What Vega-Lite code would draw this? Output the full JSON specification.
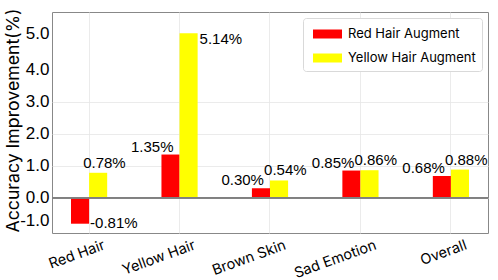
{
  "$schema": "https://vega.github.io/schema/vega-lite/v6.json",
  "width": 436,
  "height": 221,
  "autosize": {"type": "none"},
  "padding": {"left": 52, "top": 12, "right": 10, "bottom": 47},
  "background": "white",
  "config": {
    "view": {"stroke": "#888888", "strokeWidth": 1},
    "axis": {"gridColor": "#e6e6e6", "gridWidth": 0.8, "ticks": false, "domain": false}
  },
  "data": {
    "values": [
      {"category": "Red Hair", "series": "Red Hair Augment", "value": -0.81},
      {"category": "Red Hair", "series": "Yellow Hair Augment", "value": 0.78},
      {"category": "Yellow Hair", "series": "Red Hair Augment", "value": 1.35},
      {"category": "Yellow Hair", "series": "Yellow Hair Augment", "value": 5.14},
      {"category": "Brown Skin", "series": "Red Hair Augment", "value": 0.30},
      {"category": "Brown Skin", "series": "Yellow Hair Augment", "value": 0.54},
      {"category": "Sad Emotion", "series": "Red Hair Augment", "value": 0.85},
      {"category": "Sad Emotion", "series": "Yellow Hair Augment", "value": 0.86},
      {"category": "Overall", "series": "Red Hair Augment", "value": 0.68},
      {"category": "Overall", "series": "Yellow Hair Augment", "value": 0.88}
    ]
  },
  "encoding": {
    "x": {
      "field": "category",
      "type": "nominal",
      "sort": ["Red Hair", "Yellow Hair", "Brown Skin", "Sad Emotion", "Overall"],
      "scale": {"paddingInner": 0.6, "paddingOuter": 0.21},
      "axis": {
        "title": null,
        "labelAngle": -20,
        "labelAlign": "right",
        "labelBaseline": "top",
        "labelPadding": 5,
        "labelOffset": 13,
        "labelFont": "Inter",
        "labelFontSize": 14.5,
        "labelColor": "#000000",
        "grid": true
      }
    },
    "xOffset": {
      "field": "series",
      "type": "nominal",
      "sort": ["Red Hair Augment", "Yellow Hair Augment"],
      "scale": {"paddingInner": 0, "paddingOuter": 0}
    },
    "y": {
      "field": "value",
      "type": "quantitative",
      "scale": {"domain": [-1.1, 5.8], "nice": false, "zero": false},
      "axis": {
        "values": [-1, 0, 1, 2, 3, 4, 5],
        "format": ".1f",
        "labelExpr": "replace(datum.label, '\u2212', '-')",
        "labelFont": "Liberation Sans",
        "labelFontSize": 17,
        "labelColor": "#000000",
        "labelPadding": 3,
        "labelOffset": {"condition": [
          {"test": "datum.value < -0.5", "value": -9},
          {"test": "datum.value > 4.5", "value": -4}
        ], "value": 0},
        "gridOpacity": {"condition": {"test": "datum.value > 3.5 || datum.value < -0.5", "value": 0}, "value": 1},
        "title": "Accuracy Improvement(%)",
        "titleFont": "Inter",
        "titleFontSize": 17.7,
        "titleFontWeight": "normal",
        "titleColor": "#000000",
        "titleX": -34,
        "titleY": 108,
        "titleBaseline": "alphabetic",
        "titleAlign": "center",
        "titleAngle": 270
      }
    }
  },
  "layer": [
    {
      "mark": {"type": "bar"},
      "encoding": {
        "color": {
          "field": "series",
          "type": "nominal",
          "scale": {"domain": ["Red Hair Augment", "Yellow Hair Augment"], "range": ["#ff0000", "#ffff00"]},
          "legend": {
            "title": null,
            "orient": "none",
            "legendX": 251,
            "legendY": 6,
            "padding": 6,
            "fillColor": "#ffffff",
            "strokeColor": "#d9d9d9",
            "cornerRadius": 3,
            "symbolType": "M-0.6,-0.45H2.3V0.45H-0.6Z",
            "symbolSize": 400,
            "symbolStrokeWidth": 0,
            "symbolOpacity": 1,
            "labelFont": "Inter",
            "labelFontSize": 13,
            "labelColor": "#000000",
            "labelOffset": 19,
            "rowPadding": 7
          }
        }
      }
    },
    {
      "mark": {"type": "rule", "color": "#808080", "strokeWidth": 1},
      "encoding": {"y": {"datum": 0}, "x": {}, "xOffset": {}}
    },
    {
      "transform": [{"filter": "datum.series == 'Red Hair Augment' && datum.value >= 0"}],
      "mark": {"type": "text", "align": "right", "baseline": "alphabetic", "dx": 3, "dy": -3, "font": "Liberation Sans", "fontSize": 15, "color": "#000000", "text": {"expr": "format(datum.value, '.2f') + '%'"}}
    },
    {
      "transform": [{"filter": "datum.series == 'Red Hair Augment' && datum.value < 0"}],
      "mark": {"type": "text", "align": "left", "baseline": "middle", "dx": 10, "dy": -1, "font": "Liberation Sans", "fontSize": 15, "color": "#000000", "text": {"expr": "replace(format(datum.value, '.2f'), '\u2212', '-') + '%'"}}
    },
    {
      "transform": [{"filter": "datum.series == 'Yellow Hair Augment' && datum.value < 3"}],
      "mark": {"type": "text", "align": "left", "baseline": "alphabetic", "dx": -15, "dy": -5, "font": "Liberation Sans", "fontSize": 15, "color": "#000000", "text": {"expr": "format(datum.value, '.2f') + '%'"}}
    },
    {
      "transform": [{"filter": "datum.series == 'Yellow Hair Augment' && datum.value >= 3"}],
      "mark": {"type": "text", "align": "left", "baseline": "top", "dx": 11, "dy": -1, "font": "Liberation Sans", "fontSize": 15, "color": "#000000", "text": {"expr": "format(datum.value, '.2f') + '%'"}}
    }
  ]
}
